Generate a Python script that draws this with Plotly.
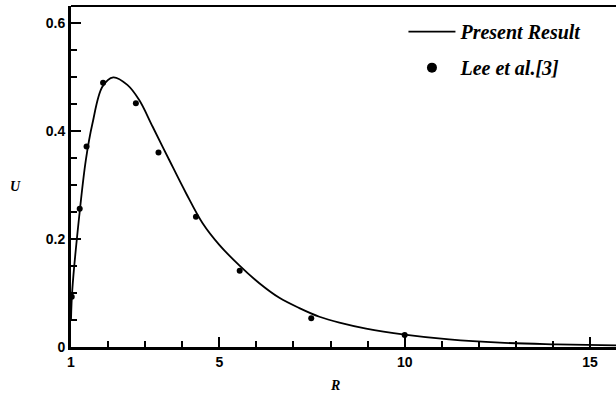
import plotly.graph_objects as go

# Present Result (curve)
curve_R = [1.0, 1.035, 1.22, 1.40, 1.58, 1.85, 2.14, 2.52, 2.84, 3.20, 3.65, 4.10, 4.55, 5.0,
           5.54, 6.08, 6.62, 7.16, 7.70, 8.24, 8.96, 10.0, 11.2, 12.57, 14.1, 15.7]
curve_U = [0.05, 0.106, 0.241, 0.346, 0.414, 0.482, 0.499, 0.485, 0.457, 0.408, 0.346, 0.285,
           0.229, 0.189, 0.151, 0.118, 0.091, 0.072, 0.056, 0.045, 0.034, 0.023, 0.014, 0.008,
           0.005, 0.003]

# Lee et al.[3] (points)
lee_R = [1.02, 1.235, 1.42, 1.865, 2.75, 3.36, 4.37, 5.55, 7.48, 10.0]
lee_U = [0.093, 0.256, 0.371, 0.489, 0.451, 0.36, 0.241, 0.141, 0.053, 0.022]

x_ticks = [1, 5, 10, 15]
y_ticks = [0, 0.2, 0.4, 0.6]
y_tick_text = ["0", "0.2", "0.4", "0.6"]

fig = go.Figure()
fig.add_trace(go.Scatter(x=curve_R, y=curve_U, mode="lines", name="Present Result",
                         legendgroup="a",
                         line=dict(color="black", width=1.8, shape="spline", smoothing=1.0)))
fig.add_trace(go.Scatter(x=lee_R, y=lee_U, mode="markers", showlegend=False,
                         marker=dict(color="black", size=6)))
fig.add_trace(go.Scatter(x=[None], y=[None], mode="markers", name="Lee et al.[3]",
                         legendgroup="b",
                         marker=dict(color="black", size=10)))

tickfont = dict(family="Liberation Sans", size=14, color="black", weight="bold")

fig.update_layout(
    width=616, height=403,
    margin=dict(l=71, r=0, t=6, b=56),
    plot_bgcolor="white", paper_bgcolor="white",
    showlegend=True,
    legend=dict(x=0.61, y=0.982, xanchor="left", yanchor="top",
                bgcolor="rgba(0,0,0,0)", itemwidth=47,
                font=dict(family="Liberation Serif", size=20, color="black",
                          style="italic", weight="bold"),
                tracegroupgap=7),
    xaxis=dict(range=[1, 15.7], showgrid=False, zeroline=False,
               showline=True, linecolor="black", linewidth=3,
               tickvals=x_ticks, ticktext=[str(v) for v in x_ticks],
               ticks="inside", ticklen=10, tickwidth=2, tickcolor="black",
               tickfont=tickfont,
               minor=dict(ticks="inside", ticklen=6, tickwidth=1.5, tickcolor="black",
                          dtick=1, tick0=0, showgrid=False)),
    yaxis=dict(range=[0, 0.631], showgrid=False, zeroline=False,
               showline=True, linecolor="black", linewidth=3,
               tickvals=y_ticks, ticktext=y_tick_text,
               ticks="inside", ticklen=10, tickwidth=2, tickcolor="black",
               tickfont=tickfont,
               minor=dict(ticks="inside", ticklen=6, tickwidth=1.5, tickcolor="black",
                          dtick=0.05, tick0=0, showgrid=False)),
    shapes=[dict(type="line", xref="paper", yref="paper", x0=0, x1=1, y0=1, y1=1,
                 line=dict(color="black", width=2))],
    annotations=[
        dict(text="U", xref="paper", yref="paper", x=-0.115, y=0.47, showarrow=False,
             font=dict(family="Liberation Serif", size=14, color="black",
                       style="italic", weight="bold")),
        dict(text="R", xref="paper", yref="paper", x=0.484, y=-0.14, showarrow=False,
             font=dict(family="Liberation Serif", size=14, color="black",
                       style="italic", weight="bold")),
    ],
)

fig.write_html("out.html")
